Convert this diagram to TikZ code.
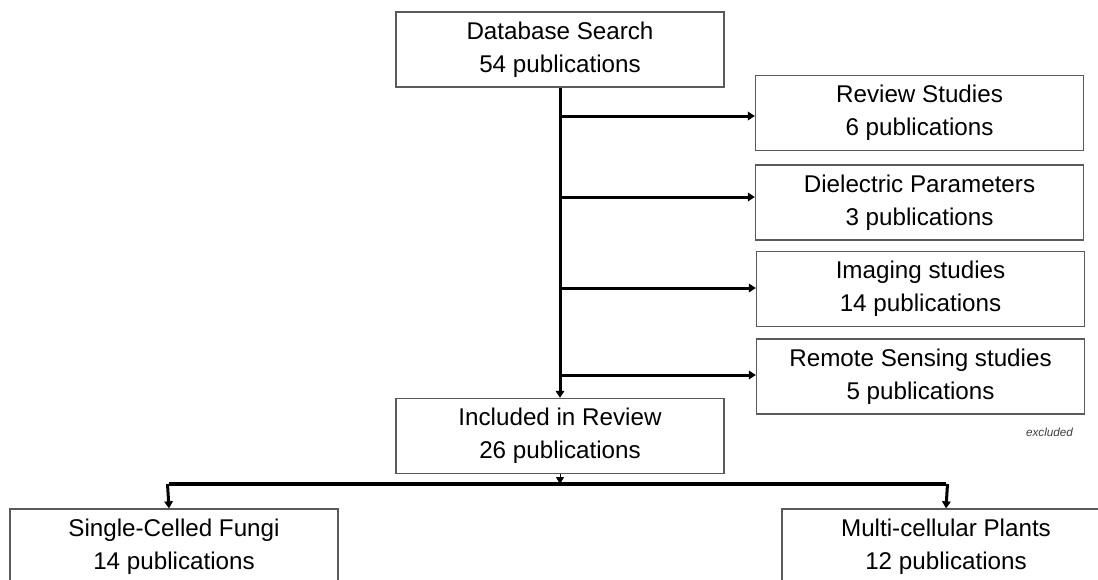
\documentclass[tikz,border=0pt]{standalone}
\usepackage{fontspec}
\setmainfont{Liberation Sans}
\usetikzlibrary{arrows.meta}
\definecolor{boxgray}{HTML}{5A5A5A}
\begin{document}
\begin{tikzpicture}[x=1pt,y=-1pt,
  box/.style={draw=boxgray, line width=1.3pt, fill=white, minimum width=328pt,
    minimum height=75pt, inner sep=0pt, align=center,
    font=\fontsize{24.2}{33}\selectfont},
  conn/.style={line width=3pt, -{Triangle[length=7pt,width=8.5pt]}},
  stub/.style={line width=1pt, -{Triangle[length=7pt,width=8pt]}},
  bus/.style={line width=3.2pt}
]
\clip (0,0) rectangle (1098,579);
\fill[white] (0,0) rectangle (1098,579);
\node[box] (db)  at (560,49.5)   {Database Search\\54 publications};
\node[box] (rev) at (919.5,113)  {Review Studies\\6 publications};
\node[box] (die) at (919.5,202.5){Dielectric Parameters\\3 publications};
\node[box] (img) at (920.5,289)  {Imaging studies\\14 publications};
\node[box] (rem) at (920.5,376.5){Remote Sensing studies\\5 publications};
\node[box] (inc) at (560,436)    {Included in Review\\26 publications};
\node[box] (sgl) at (174,546.5)  {Single-Celled Fungi\\14 publications};
\node[box] (mul) at (946,546.5)  {Multi-cellular Plants\\12 publications};
\node[font=\itshape\fontsize{11.7}{14}\selectfont, text=black!75] (exc) at (1049.5,432) {excluded};

\draw[conn] (db.south) -- (inc.north);
\coordinate (t1) at (560,116);
\coordinate (t2) at (560,197);
\coordinate (t3) at (560,288);
\coordinate (t4) at (560,375);
\draw[conn] (t1) -- (t1 -| rev.west);
\draw[conn] (t2) -- (t2 -| die.west);
\draw[conn] (t3) -- (t3 -| img.west);
\draw[conn] (t4) -- (t4 -| rem.west);

\coordinate (bus) at (560,484);
\coordinate (sl) at (169,484);
\coordinate (sr) at (946,484);
\draw[stub] (inc.south) -- (bus);
\draw[bus] (sl) -- (sr);
\draw[conn] ([xshift=-1.5pt]sl) -- (sl |- sgl.north);
\draw[conn] ([xshift=1.5pt]sr) -- (sr |- mul.north);
\end{tikzpicture}
\end{document}
